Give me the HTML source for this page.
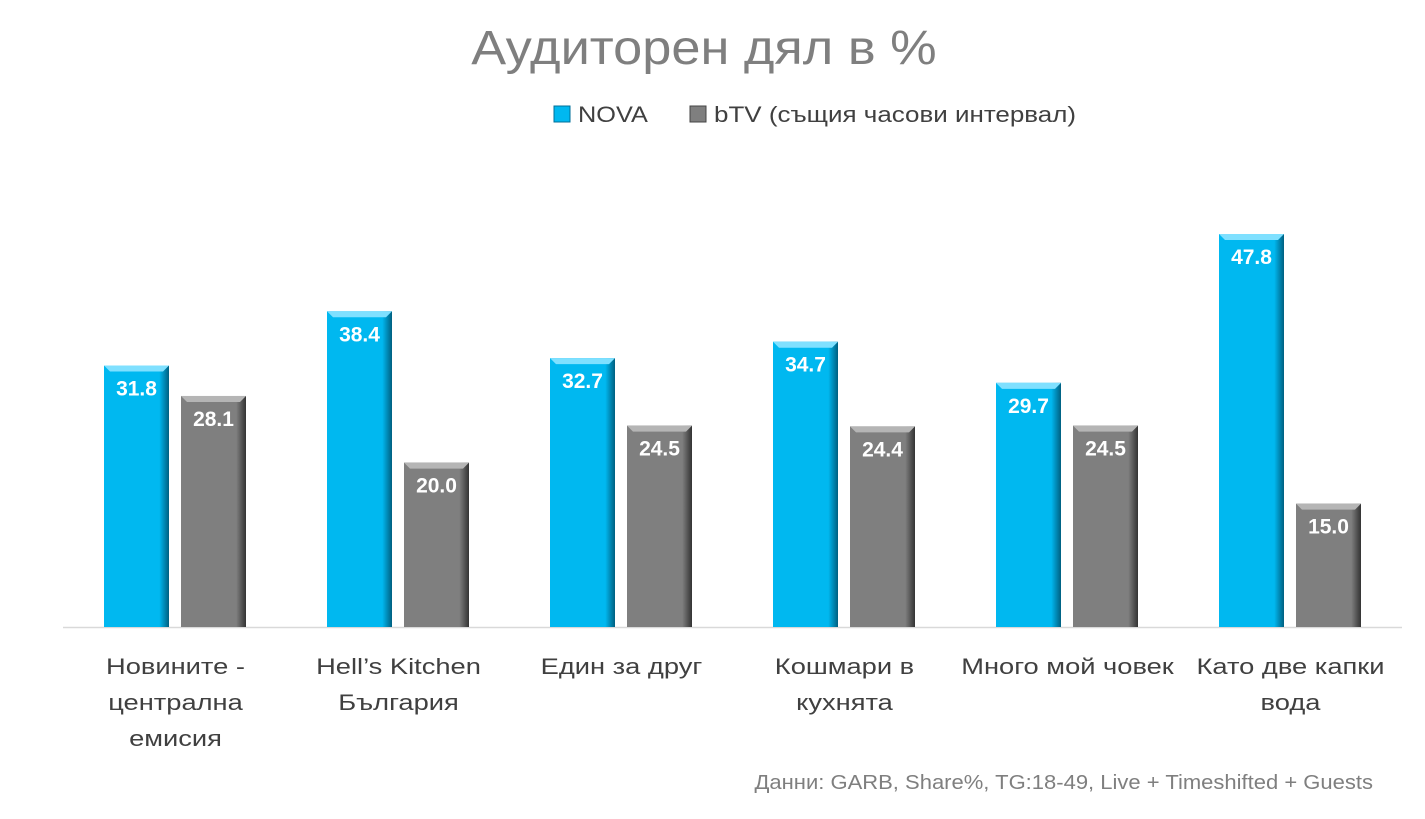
<!DOCTYPE html>
<html><head><meta charset="utf-8"><style>
body{margin:0;background:#fff;}
svg text{font-family:"Liberation Sans","DejaVu Sans",sans-serif;}
</style></head><body>
<svg id="c" width="1425" height="814" xmlns="http://www.w3.org/2000/svg">
<defs>
<linearGradient id="gN" x1="0" x2="1"><stop offset="0" stop-color="#00b8f0"/><stop offset="0.85" stop-color="#00b8f0"/><stop offset="1" stop-color="#005f80"/></linearGradient>
<linearGradient id="gB" x1="0" x2="1"><stop offset="0" stop-color="#7f7f7f"/><stop offset="0.85" stop-color="#7f7f7f"/><stop offset="1" stop-color="#333"/></linearGradient>
</defs>
<text class="st" data-s="1.09" x="704" y="64" text-anchor="middle" font-size="48" fill="#7f7f7f">Аудиторен дял в %</text>
<g>
<rect x="554" y="106" width="16" height="16" fill="#00b8f0" stroke="#006f99" stroke-width="1"/>
<text class="st" data-s="1.15" x="578" y="122" font-size="22" fill="#404040">NOVA</text></g>
<g>
<rect x="690" y="106" width="16" height="16" fill="#7f7f7f" stroke="#444" stroke-width="1"/>
<text class="st" data-s="1.18" x="714" y="122" font-size="22" fill="#404040">bTV (същия часови интервал)</text></g>
<line x1="63" y1="627.5" x2="1402" y2="627.5" stroke="#d9d9d9" stroke-width="1.5"/>
<g id="bars"></g>
<text class="st" data-s="1.10" x="1373" y="789" text-anchor="end" font-size="20" fill="#7f7f7f">Данни: GARB, Share%, TG:18-49, Live + Timeshifted + Guests</text>
</svg>
<script>
const categories=[["Новините -","централна","емисия"],["Hell’s Kitchen","България"],["Един за друг"],["Кошмари в","кухнята"],["Много мой човек"],["Като две капки","вода"]];
const novaValues=[31.8,38.4,32.7,34.7,29.7,47.8];
const btvValues=[28.1,20.0,24.5,24.4,24.5,15.0];
const ns="http://www.w3.org/2000/svg";
const g=document.getElementById('bars');
const base=627, scale=393/47.8;
function y(v){return base-v*scale;}
function gx(i){return 104+i*223;}
function mk(t,a){const e=document.createElementNS(ns,t);for(const k in a)e.setAttribute(k,a[k]);return e;}
function bar(x,v,fill,top,name){
 const h=v*scale, yt=y(v);
 const r=mk('rect',{x:x,y:yt,width:65,height:h,fill:fill});
 
 
 g.appendChild(r);
 g.appendChild(mk('polygon',{points:`${x},${yt} ${x+65},${yt} ${x+59},${yt+6} ${x+6},${yt+6}`,fill:top}));
 const t=mk('text',{x:x+32.5,y:yt+30,'text-anchor':'middle','font-size':'21','font-weight':'bold',fill:'#fff'});
 t.textContent=v.toFixed(1);
 
 
 g.appendChild(t);
}
categories.forEach((c,i)=>{
 bar(gx(i),novaValues[i],'url(#gN)','#7fe0ff','bar-nova-'+i);
 bar(gx(i)+77,btvValues[i],'url(#gB)','#b5b5b5','bar-btv-'+i);
 c.forEach((ln,j)=>{
  const t=mk('text',{x:gx(i)+71.5,y:674+j*36,'text-anchor':'middle','font-size':'22',fill:'#404040','class':'st','data-s':'1.24'});
  t.textContent=ln;
  
  
  g.appendChild(t);
 });
});
document.querySelectorAll('.st').forEach(t=>{
 const w=t.getComputedTextLength()*parseFloat(t.getAttribute('data-s'));
 t.setAttribute('textLength',w);
 t.setAttribute('lengthAdjust','spacingAndGlyphs');
});
</script>
</body></html>
